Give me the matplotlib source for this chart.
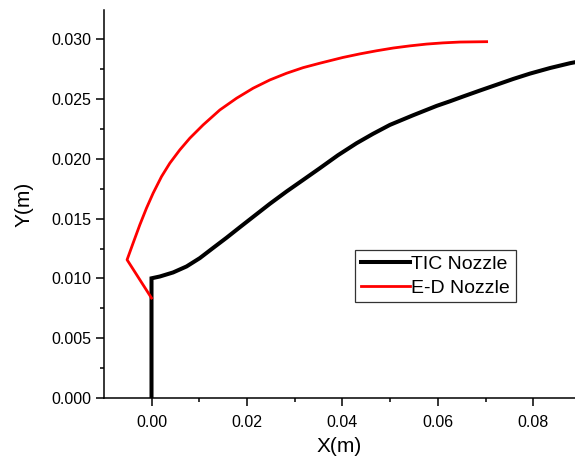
import matplotlib
matplotlib.use("Agg")
import matplotlib.pyplot as plt
from matplotlib.ticker import MultipleLocator

plt.rcParams['font.family'] = ['Liberation Sans', 'DejaVu Sans']

# nozzle wall profiles, metres
tic_x = [0.0, 0.0, 0.00174, 0.00453, 0.00734, 0.01013, 0.01291, 0.01572, 0.01851,
         0.02130, 0.02480, 0.02830, 0.03178, 0.03528, 0.03906, 0.04298, 0.04640,
         0.04996, 0.05478, 0.05975, 0.06258, 0.06533, 0.06886, 0.07233, 0.07578,
         0.07931, 0.08354, 0.08770, 0.0890]
tic_y = [0.0, 0.01001, 0.01016, 0.01050, 0.01100, 0.01170, 0.01255, 0.01340, 0.01428,
         0.01515, 0.01624, 0.01727, 0.01824, 0.01922, 0.02030, 0.02131, 0.02209,
         0.02284, 0.02364, 0.02443, 0.02482, 0.02522, 0.02572, 0.02620, 0.02668,
         0.02713, 0.02760, 0.02800, 0.02810]

ed_x = [0.0, -0.00512, -0.00386, -0.00245, -0.00105, 0.00034, 0.00210, 0.00384,
        0.00593, 0.00803, 0.01082, 0.01432, 0.01782, 0.02130, 0.02480, 0.02830,
        0.03178, 0.03528, 0.04010, 0.04367, 0.04717, 0.05065, 0.05415, 0.05765,
        0.06107, 0.06463, 0.07023]
ed_y = [0.00836, 0.01156, 0.01295, 0.01448, 0.01588, 0.01713, 0.01852, 0.01964,
        0.02075, 0.02173, 0.02284, 0.02409, 0.02507, 0.02591, 0.02660, 0.02716,
        0.02763, 0.02800, 0.02848, 0.02878, 0.02904, 0.02927, 0.02945, 0.02960,
        0.02970, 0.02977, 0.02980]

fig = plt.figure(figsize=(5.75, 4.61), dpi=100)
ax = fig.add_axes([0.181, 0.1367, 0.819, 0.8416])

ax.plot(tic_x, tic_y, color="black", lw=2.9, label="TIC Nozzle", solid_joinstyle="miter")
ax.plot(ed_x, ed_y, color="red", lw=2.0, label="E-D Nozzle")

ax.set_xlim(-0.00994, 0.08875)
ax.set_ylim(0.0, 0.03245)

ax.spines["top"].set_visible(False)
ax.spines["right"].set_visible(False)
for s in ("left", "bottom"):
    ax.spines[s].set_linewidth(1.1)

ax.xaxis.set_major_locator(MultipleLocator(0.02))
ax.xaxis.set_minor_locator(MultipleLocator(0.01))
ax.yaxis.set_major_locator(MultipleLocator(0.005))
ax.yaxis.set_minor_locator(MultipleLocator(0.0025))
ax.xaxis.set_major_formatter(plt.FormatStrFormatter("%.2f"))
ax.yaxis.set_major_formatter(plt.FormatStrFormatter("%.3f"))
ax.tick_params(which="major", direction="out", length=5.5, width=1.1, labelsize=11.5)
ax.tick_params(which="minor", direction="out", length=3, width=1.1)
ax.tick_params(axis="x", which="major", pad=7)

ax.set_xlabel("X(m)", fontsize=15, labelpad=5)
ax.set_ylabel("Y(m)", fontsize=15, labelpad=13)

leg = ax.legend(loc="upper left", bbox_to_anchor=(0.533, 0.382), fontsize=14,
                frameon=True, fancybox=False, handlelength=2.5, handletextpad=0.08,
                borderpad=0.3, labelspacing=0.3, borderaxespad=0)
leg.get_frame().set_edgecolor("black")
leg.get_frame().set_linewidth(0.9)

fig.savefig("out.png", dpi=100)
